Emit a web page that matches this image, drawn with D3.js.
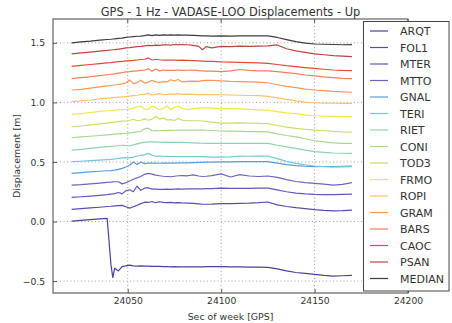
<!DOCTYPE html>
<html><head><meta charset="utf-8">
<script src="https://cdn.jsdelivr.net/npm/d3@7"></script>
<style>
html,body{margin:0;padding:0;background:#fff;}
svg{display:block;font-family:"DejaVu Sans",sans-serif;}
</style></head>
<body><svg id="c" width="452" height="323"></svg>
<script>
const times = [24020,24025,24030,24035,24039,24041,24042,24043,24045,24047,24049,24051,24053,24055,24057,24059,24061,24063,24065,24067,24069,24071,24073,24075,24077,24079,24082,24085,24088,24090,24092,24095,24100,24105,24110,24115,24120,24125,24130,24135,24140,24145,24150,24155,24160,24165,24170];

const ARQT = [0.004,0.010,0.016,0.022,0.026,-0.360,-0.470,-0.392,-0.415,-0.378,-0.372,-0.366,-0.372,-0.374,-0.372,-0.375,-0.374,-0.376,-0.377,-0.376,-0.378,-0.378,-0.380,-0.379,-0.380,-0.381,-0.381,-0.380,-0.380,-0.380,-0.379,-0.378,-0.378,-0.380,-0.380,-0.382,-0.383,-0.385,-0.398,-0.414,-0.428,-0.436,-0.444,-0.452,-0.458,-0.455,-0.452];
const FOL1 = [0.102,0.108,0.114,0.120,0.126,0.128,0.130,0.131,0.134,0.136,0.124,0.112,0.124,0.136,0.150,0.162,0.160,0.168,0.158,0.166,0.160,0.158,0.160,0.156,0.158,0.156,0.155,0.152,0.148,0.145,0.145,0.146,0.150,0.150,0.152,0.154,0.158,0.164,0.140,0.126,0.116,0.108,0.100,0.094,0.090,0.092,0.096];
const MTER = [0.203,0.208,0.214,0.220,0.226,0.230,0.232,0.234,0.244,0.232,0.258,0.266,0.250,0.298,0.262,0.280,0.284,0.272,0.272,0.270,0.270,0.272,0.270,0.272,0.274,0.272,0.274,0.274,0.274,0.274,0.276,0.276,0.280,0.278,0.278,0.278,0.280,0.280,0.266,0.250,0.238,0.232,0.228,0.226,0.226,0.228,0.230];
const MTTO = [0.306,0.310,0.316,0.322,0.328,0.330,0.332,0.334,0.334,0.316,0.326,0.340,0.355,0.366,0.378,0.396,0.404,0.398,0.390,0.384,0.380,0.378,0.376,0.380,0.384,0.386,0.384,0.392,0.382,0.378,0.380,0.386,0.400,0.374,0.394,0.382,0.378,0.382,0.370,0.352,0.336,0.326,0.320,0.314,0.306,0.312,0.326];
const GNAL = [0.404,0.410,0.416,0.422,0.426,0.428,0.430,0.432,0.438,0.446,0.458,0.472,0.500,0.478,0.500,0.486,0.490,0.490,0.490,0.489,0.490,0.490,0.491,0.491,0.492,0.492,0.493,0.494,0.496,0.497,0.498,0.498,0.500,0.500,0.502,0.502,0.502,0.502,0.490,0.478,0.470,0.464,0.460,0.462,0.462,0.464,0.466];
const TERI = [0.502,0.506,0.511,0.516,0.520,0.522,0.524,0.525,0.530,0.534,0.536,0.534,0.540,0.550,0.556,0.560,0.572,0.556,0.548,0.550,0.548,0.547,0.546,0.546,0.545,0.545,0.545,0.544,0.544,0.544,0.542,0.540,0.540,0.542,0.550,0.548,0.550,0.548,0.528,0.505,0.488,0.475,0.466,0.460,0.456,0.458,0.460];
const RIET = [0.600,0.606,0.614,0.622,0.628,0.630,0.632,0.633,0.636,0.640,0.638,0.634,0.644,0.652,0.660,0.664,0.668,0.668,0.666,0.666,0.665,0.666,0.665,0.665,0.664,0.664,0.662,0.660,0.658,0.657,0.656,0.656,0.656,0.656,0.656,0.656,0.657,0.656,0.640,0.626,0.614,0.600,0.586,0.580,0.575,0.573,0.572];
const CONI = [0.703,0.710,0.716,0.722,0.728,0.730,0.731,0.733,0.736,0.738,0.740,0.744,0.748,0.752,0.758,0.778,0.784,0.760,0.764,0.762,0.764,0.766,0.765,0.766,0.767,0.768,0.768,0.768,0.768,0.768,0.766,0.764,0.760,0.758,0.756,0.755,0.755,0.752,0.736,0.722,0.710,0.695,0.678,0.668,0.660,0.656,0.656];
const TOD3 = [0.796,0.802,0.812,0.820,0.826,0.830,0.832,0.834,0.838,0.842,0.844,0.850,0.858,0.846,0.850,0.862,0.850,0.860,0.882,0.860,0.870,0.852,0.856,0.848,0.866,0.850,0.846,0.846,0.846,0.844,0.840,0.834,0.826,0.826,0.828,0.826,0.824,0.822,0.806,0.792,0.782,0.774,0.768,0.762,0.756,0.752,0.750];
const FRMO = [0.900,0.906,0.915,0.924,0.930,0.932,0.934,0.935,0.938,0.940,0.942,0.946,0.952,0.962,0.970,0.944,0.942,0.968,0.958,0.938,0.950,0.970,0.940,0.958,0.970,0.950,0.940,0.948,0.952,0.955,0.954,0.952,0.947,0.948,0.946,0.942,0.938,0.935,0.922,0.912,0.906,0.896,0.888,0.884,0.882,0.880,0.880];
const ROPI = [1.006,1.012,1.020,1.030,1.036,1.038,1.040,1.041,1.044,1.046,1.049,1.052,1.056,1.060,1.066,1.070,1.076,1.062,1.068,1.074,1.066,1.068,1.072,1.068,1.074,1.068,1.070,1.068,1.066,1.068,1.066,1.066,1.064,1.062,1.060,1.058,1.056,1.050,1.038,1.026,1.012,1.002,0.997,0.994,0.993,0.992,0.992];
const GRAM = [1.104,1.110,1.120,1.130,1.138,1.142,1.144,1.146,1.150,1.156,1.163,1.188,1.158,1.166,1.186,1.162,1.170,1.186,1.172,1.168,1.174,1.172,1.190,1.180,1.192,1.172,1.176,1.178,1.176,1.182,1.184,1.186,1.180,1.176,1.174,1.172,1.170,1.165,1.148,1.134,1.124,1.112,1.104,1.098,1.092,1.088,1.085];
const BARS = [1.200,1.208,1.215,1.225,1.232,1.236,1.238,1.240,1.245,1.250,1.256,1.258,1.262,1.265,1.268,1.270,1.282,1.262,1.280,1.264,1.272,1.268,1.270,1.268,1.272,1.268,1.270,1.272,1.266,1.264,1.262,1.262,1.258,1.264,1.276,1.268,1.264,1.264,1.258,1.250,1.242,1.230,1.222,1.214,1.208,1.202,1.200];
const CAOC = [1.302,1.310,1.318,1.326,1.332,1.334,1.336,1.338,1.342,1.345,1.348,1.350,1.352,1.356,1.360,1.362,1.372,1.356,1.362,1.358,1.355,1.356,1.354,1.355,1.353,1.354,1.352,1.350,1.348,1.346,1.344,1.344,1.340,1.338,1.336,1.334,1.331,1.328,1.318,1.308,1.300,1.292,1.285,1.278,1.272,1.268,1.266];
const PSAN = [1.408,1.415,1.422,1.430,1.436,1.440,1.442,1.443,1.447,1.452,1.457,1.460,1.464,1.468,1.470,1.474,1.478,1.476,1.480,1.478,1.482,1.484,1.480,1.486,1.482,1.486,1.484,1.478,1.470,1.442,1.468,1.458,1.470,1.468,1.472,1.470,1.472,1.474,1.482,1.450,1.432,1.420,1.408,1.400,1.392,1.388,1.384];
const MEDIAN = [1.500,1.508,1.514,1.522,1.528,1.530,1.532,1.533,1.538,1.540,1.546,1.549,1.552,1.555,1.556,1.560,1.566,1.561,1.566,1.563,1.566,1.565,1.566,1.564,1.566,1.565,1.564,1.562,1.560,1.558,1.558,1.557,1.558,1.557,1.558,1.558,1.559,1.558,1.545,1.527,1.510,1.498,1.490,1.488,1.486,1.484,1.485];

const stationNames = ["ARQT","FOL1","MTER","MTTO","GNAL","TERI","RIET","CONI","TOD3","FRMO","ROPI","GRAM","BARS","CAOC","PSAN","MEDIAN"];
const stationValues = [ARQT,FOL1,MTER,MTTO,GNAL,TERI,RIET,CONI,TOD3,FRMO,ROPI,GRAM,BARS,CAOC,PSAN,MEDIAN];
const colors = ["#4c3f9f","#5a4bab","#6657b5","#6f63bd","#5b9ad6","#74c6d6","#8fd2ae","#a7d98e","#c6e06a","#ece94a","#fbc35e","#f8974f","#f57d5c","#e5493c","#b8463f","#3c3c3c"];
const xTicks = [24050,24100,24150,24200];
const yTicks = [-0.5,0.0,0.5,1.0,1.5];
const xDomain = [24010,24200];
const yDomain = [-0.6,1.7];
const titleText = "GPS - 1 Hz - VADASE-LOO Displacements - Up";
const xLabel = "Sec of week [GPS]";
const yLabel = "Displacement [m]";

const L = 53, R = 408, T = 19, B = 293;
const svg = d3.select("#c");
const x = d3.scaleLinear().domain(xDomain).range([L, R]);
const y = d3.scaleLinear().domain(yDomain).range([B, T]);
const textCol = "#333";
const spineCol = "#555";

// grid
const grid = svg.append("g");
grid.selectAll("line.gx").data(xTicks).join("line")
  .attr("x1", d => x(d)).attr("x2", d => x(d)).attr("y1", T).attr("y2", B)
  .attr("stroke", "#a0a0a0").attr("stroke-width", 1).attr("stroke-dasharray", "1,2.5");
grid.selectAll("line.gy").data(yTicks).join("line")
  .attr("x1", L).attr("x2", R).attr("y1", d => y(d)).attr("y2", d => y(d))
  .attr("stroke", "#a0a0a0").attr("stroke-width", 1).attr("stroke-dasharray", "1,2.5");

// lines
const line = d3.line().x(d => x(d[0])).y(d => y(d[1]));
stationValues.forEach((vals, i) => {
  const pts = times.map((t, k) => [t, vals[k]]).filter(d => d[1] != null);
  svg.append("path").datum(pts).attr("d", line)
    .attr("fill", "none").attr("stroke", colors[i]).attr("stroke-width", 1.2)
    .attr("stroke-linejoin", "round");
});

// axes
const fmt = d3.format(".1f");
const xAxis = d3.axisBottom(x).tickValues(xTicks).tickSize(-4).tickPadding(8).tickFormat(d3.format("d"));
const yAxis = d3.axisLeft(y).tickValues(yTicks).tickSize(-4).tickPadding(8).tickFormat(d => fmt(d).replace("-", "\u2212"));
const gx = svg.append("g").attr("transform", `translate(0,${B})`).call(xAxis);
const gy = svg.append("g").attr("transform", `translate(${L},0)`).call(yAxis);
[gx, gy].forEach(g => {
  g.select(".domain").remove();
  g.selectAll(".tick line").attr("stroke", spineCol);
  g.selectAll(".tick text").attr("fill", textCol).style("font-size", "9.2px").style("font-family", "DejaVu Sans");
});
gx.selectAll(".tick text").attr("dy", null).attr("y", 11);
gy.selectAll(".tick text").attr("dy", "0.34em");

// top ticks
svg.append("g").selectAll("line").data(xTicks).join("line")
  .attr("x1", d => x(d)).attr("x2", d => x(d)).attr("y1", T).attr("y2", T + 4)
  .attr("stroke", spineCol);

// frame
svg.append("rect").attr("x", L).attr("y", T).attr("width", R - L).attr("height", B - T)
  .attr("fill", "none").attr("stroke", spineCol).attr("stroke-width", 1.1);

// title & labels
svg.append("text").attr("x", (L + R) / 2).attr("y", 15.5).attr("text-anchor", "middle")
  .attr("fill", textCol).style("font-size", "11.4px").text(titleText);
svg.append("text").attr("x", (L + R) / 2).attr("y", 319.5).attr("text-anchor", "middle")
  .attr("fill", textCol).style("font-size", "9.4px").text(xLabel);
svg.append("text").attr("transform", `translate(16,${(T + B) / 2}) rotate(-90)`)
  .attr("text-anchor", "middle").attr("dominant-baseline", "central")
  .attr("fill", textCol).style("font-size", "9.4px").text(yLabel);

// legend
const lg = svg.append("g");
lg.append("rect").attr("x", 363.5).attr("y", 21.5).attr("width", 85.5).attr("height", 269.5)
  .attr("fill", "#fff").attr("stroke", "#444").attr("stroke-width", 1);
stationNames.forEach((n, i) => {
  const cy = 31 + i * 16.5;
  lg.append("line").attr("x1", 370).attr("x2", 388).attr("y1", cy).attr("y2", cy)
    .attr("stroke", colors[i]).attr("stroke-width", 1.2);
  lg.append("text").attr("x", 400).attr("y", cy + 4).attr("fill", textCol)
    .style("font-size", "11px").text(n);
});
</script></body></html>
